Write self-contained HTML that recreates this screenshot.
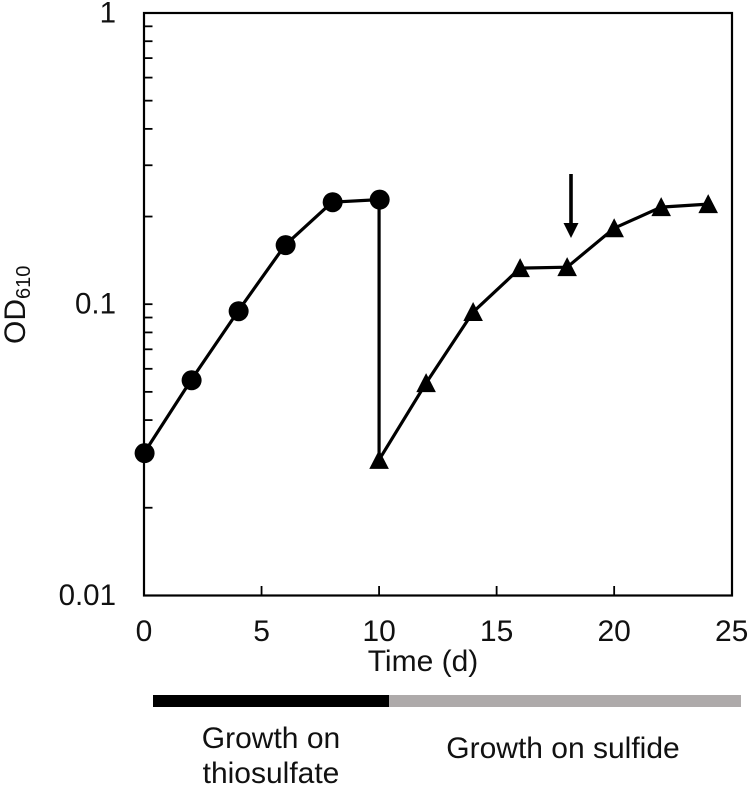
<!DOCTYPE html>
<html>
<head>
<meta charset="utf-8">
<style>
html,body{margin:0;padding:0;background:#fff;width:750px;height:787px;overflow:hidden}
svg{display:block}
text{font-family:"Liberation Sans",Arial,sans-serif;fill:#111;font-size:30px}
</style>
</head>
<body>
<svg id="chart" width="750" height="787" viewBox="0 0 750 787" xmlns="http://www.w3.org/2000/svg">
  <rect x="144" y="13" width="588" height="582.5" fill="none" stroke="#000" stroke-width="2.2"/>
  <g id="ticks"></g>
  <g id="labels"></g>
  <g id="marks"></g>
  <g>
    <line x1="571" y1="174" x2="571" y2="225" stroke="#000" stroke-width="3.6"/>
    <polygon points="563.5,223 578.5,223 571,238" fill="#000"/>
  </g>
  <text x="423" y="671" text-anchor="middle">Time (d)</text>
  <text transform="translate(25,344) rotate(-90)">OD<tspan font-size="20" dy="5">610</tspan></text>
  <rect x="153" y="695" width="236" height="12" fill="#000"/>
  <rect x="389" y="695" width="352" height="12" fill="#aeaaaa"/>
  <text x="271" y="748" text-anchor="middle">Growth on</text>
  <text x="271" y="783" text-anchor="middle">thiosulfate</text>
  <text x="563" y="758" text-anchor="middle">Growth on sulfide</text>
</svg>
<script>
const thiosulfateDays = [0, 2, 4, 6, 8, 10];
const thiosulfateOD = [0.0308, 0.0548, 0.0946, 0.1595, 0.224, 0.2286];
const sulfideDays = [10, 12, 14, 16, 18, 20, 22, 24];
const sulfideOD = [0.0292, 0.0536, 0.094, 0.133, 0.134, 0.1824, 0.2155, 0.2206];
const xTickValues = [0, 5, 10, 15, 20, 25];
const yLabelValues = [1, 0.1, 0.01];
const yMinorValues = [0.9, 0.8, 0.7, 0.6, 0.5, 0.4, 0.3, 0.2, 0.09, 0.08, 0.07, 0.06, 0.05, 0.04, 0.03, 0.02];

const NS = 'http://www.w3.org/2000/svg';
const xScale = function (d) { return 144 + (d / 25) * 587.7; };
const yScale = function (v) { return 13 + (0 - Math.log10(v)) * 291.2; };
const make = function (tag, parent) {
  const node = document.createElementNS(NS, tag);
  parent.appendChild(node);
  return node;
};
const ticks = document.getElementById('ticks');
const labels = document.getElementById('labels');
const marks = document.getElementById('marks');

xTickValues.forEach(function (d) {
  if (d > 0 && d < 25) {
    const t = make('line', ticks);
    
    
    t.setAttribute('x1', xScale(d));
    t.setAttribute('x2', xScale(d));
    t.setAttribute('y1', 586);
    t.setAttribute('y2', 595);
    t.setAttribute('stroke', '#000');
    t.setAttribute('stroke-width', 1.8);
  }
  const l = make('text', labels);
  
  
  l.setAttribute('x', xScale(d));
  l.setAttribute('y', 641);
  l.setAttribute('text-anchor', 'middle');
  l.textContent = String(d);
});

yMinorValues.concat([0.1]).forEach(function (v) {
  const t = make('line', ticks);
  
  
  t.setAttribute('x1', 144);
  t.setAttribute('x2', 152.5);
  t.setAttribute('y1', yScale(v));
  t.setAttribute('y2', yScale(v));
  t.setAttribute('stroke', '#000');
  t.setAttribute('stroke-width', 1.8);
});

yLabelValues.forEach(function (v) {
  const l = make('text', labels);
  
  
  l.setAttribute('x', 116);
  l.setAttribute('y', yScale(v) + 9.5);
  l.setAttribute('text-anchor', 'end');
  l.setAttribute('font-size', '29.5');
  l.style.fontSize = '29.5px';
  l.textContent = String(v);
});

const pathFrom = function (days, values) {
  return days.map(function (d, i) {
    return xScale(d) + ',' + yScale(values[i]);
  }).join(' ');
};

const thioLine = make('polyline', marks);


thioLine.setAttribute('points', pathFrom(thiosulfateDays, thiosulfateOD));
thioLine.setAttribute('fill', 'none');
thioLine.setAttribute('stroke', '#000');
thioLine.setAttribute('stroke-width', 3.2);

const transfer = make('line', marks);


transfer.setAttribute('x1', xScale(thiosulfateDays[thiosulfateDays.length - 1]));
transfer.setAttribute('y1', yScale(thiosulfateOD[thiosulfateOD.length - 1]));
transfer.setAttribute('x2', xScale(sulfideDays[0]));
transfer.setAttribute('y2', yScale(sulfideOD[0]));
transfer.setAttribute('stroke', '#000');
transfer.setAttribute('stroke-width', 3.2);

const sulfLine = make('polyline', marks);


sulfLine.setAttribute('points', pathFrom(sulfideDays, sulfideOD));
sulfLine.setAttribute('fill', 'none');
sulfLine.setAttribute('stroke', '#000');
sulfLine.setAttribute('stroke-width', 3.2);

thiosulfateDays.forEach(function (d, i) {
  const c = make('circle', marks);
  
  
  c.setAttribute('cx', xScale(d) + 0.6);
  c.setAttribute('cy', yScale(thiosulfateOD[i]));
  c.setAttribute('r', 10);
  c.setAttribute('fill', '#000');
});

sulfideDays.forEach(function (d, i) {
  const x = xScale(d);
  const y = yScale(sulfideOD[i]);
  const p = make('polygon', marks);
  
  
  p.setAttribute('points', x + ',' + (y - 10) + ' ' + (x + 9.8) + ',' + (y + 9) + ' ' + (x - 9.8) + ',' + (y + 9));
  p.setAttribute('fill', '#000');
});
</script>
</body>
</html>
